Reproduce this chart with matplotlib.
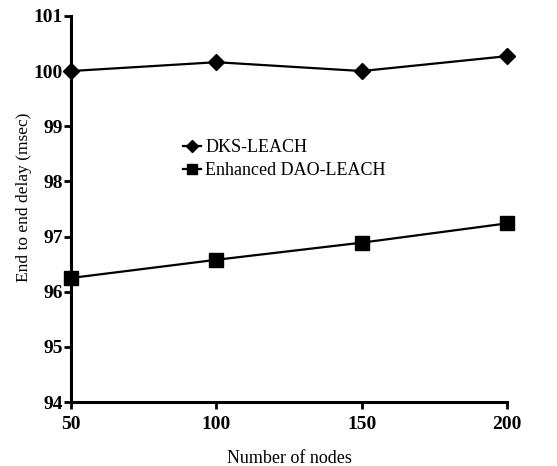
import matplotlib
matplotlib.use("Agg")
import matplotlib.pyplot as plt

plt.rcParams['font.family'] = ['Liberation Serif', 'DejaVu Serif']

nodes = [50, 100, 150, 200]
dks_leach = [100.0, 100.16, 100.0, 100.27]
enhanced_dao_leach = [96.25, 96.58, 96.89, 97.24]
x_ticks = [50, 100, 150, 200]
y_ticks = [94, 95, 96, 97, 98, 99, 100, 101]

fig = plt.figure(figsize=(5.57, 4.66), dpi=100)
ax = fig.add_axes([0.1275, 0.137, 0.783, 0.829])

ax.plot(nodes, dks_leach, color='black', lw=1.6, marker='D', ms=8,
        label='DKS-LEACH', clip_on=False, zorder=3)
ax.plot(nodes, enhanced_dao_leach, color='black', lw=1.6, marker='s', ms=10,
        label='Enhanced DAO-LEACH', clip_on=False, zorder=3)

ax.set_xlim(50, 200)
ax.set_ylim(94, 101)
ax.set_xticks(x_ticks)
ax.set_yticks(y_ticks)

for side in ('top', 'right'):
    ax.spines[side].set_visible(False)
for side in ('left', 'bottom'):
    ax.spines[side].set_linewidth(2.2)

ax.tick_params(axis='both', direction='out', length=5, width=2, labelsize=14)
ax.tick_params(axis='x', pad=5)
ax.tick_params(axis='y', pad=1)
for lbl in ax.get_xticklabels() + ax.get_yticklabels():
    lbl.set_fontweight('bold')

ax.set_xlabel('Number of nodes', fontsize=13)
ax.xaxis.set_label_coords(0.5, -0.125)
ax.set_ylabel('End to end delay (msec)', fontsize=12.5)
ax.yaxis.set_label_coords(-0.09, 0.53)

ax.legend(loc='upper left', bbox_to_anchor=(0.24, 0.70), frameon=False,
          fontsize=13, handlelength=1.0, handletextpad=0.25,
          labelspacing=0.35, borderaxespad=0, markerscale=0.75)

fig.savefig('out.png', dpi=100)
